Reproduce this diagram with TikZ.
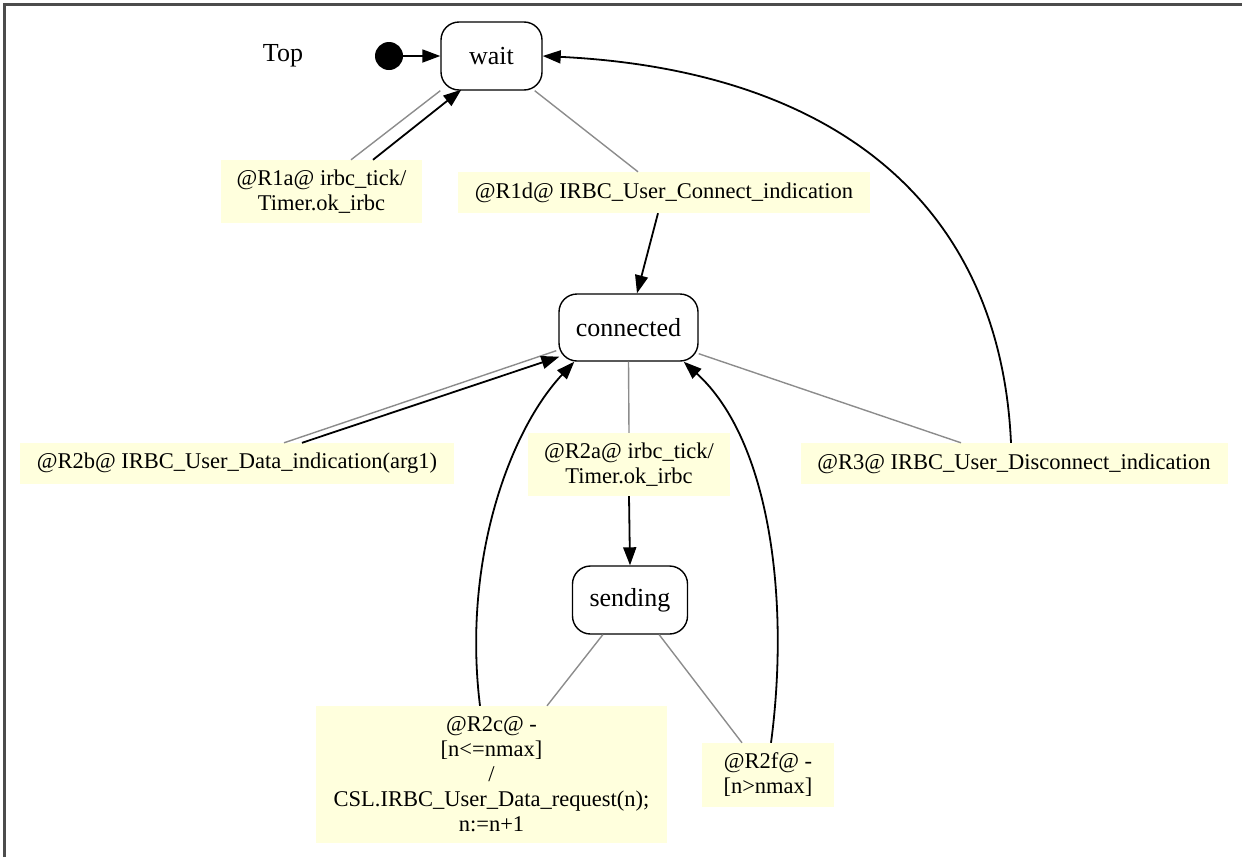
\documentclass[tikz,border=0pt]{standalone}
\usepackage{fontspec}
\setmainfont{Liberation Serif}
\usetikzlibrary{arrows.meta}
\definecolor{lblbg}{HTML}{FFFFDD}
\definecolor{edgegray}{HTML}{8C8C8C}
\tikzset{
  statebox/.style={draw=black, line width=1.4pt, rounded corners=18pt, fill=white, inner sep=0pt,
    font=\fontsize{26}{29}\selectfont},
  lbl/.style={fill=lblbg, inner sep=0pt, align=center, font=\fontsize{22.5}{25}\selectfont},
  glink/.style={draw=edgegray, line width=1.4pt},
  blink/.style={draw=black, line width=1.8pt, -{Triangle[length=18pt,width=13pt]}},
}
\begin{document}
\begin{tikzpicture}[x=1pt,y=-1pt]
\useasboundingbox (0,0) rectangle (1242,857);
\draw[line width=3pt, black!70] (4.5,857) -- (4.5,4.5) -- (1242,4.5);

% states
\node[statebox, minimum width=101pt, minimum height=68pt] (wait) at (491.5,56) {wait};
\node[statebox, minimum width=139pt, minimum height=67pt] (connected) at (628.5,327.5) {connected};
\node[statebox, minimum width=115pt, minimum height=68pt] (sending) at (630,600) {sending};
\node[font=\fontsize{26}{29}\selectfont] (top) at (283,56) {Top};
\node[circle, fill=black, minimum size=28pt, inner sep=0pt] (init) at (389,56) {};

% labels
\node[lbl, minimum width=201pt, minimum height=63pt] (R1a) at (321.5,191.5) {@R1a@ irbc\_tick/\\Timer.ok\_irbc};
\node[lbl, minimum width=412pt, minimum height=41pt] (R1d) at (664,192.5) {@R1d@ IRBC\_User\_Connect\_indication};
\node[lbl, minimum width=434pt, minimum height=41pt] (R2b) at (237,463.5) {@R2b@ IRBC\_User\_Data\_indication(arg1)};
\node[lbl, minimum width=202pt, minimum height=63pt] (R2a) at (629,464.5) {@R2a@ irbc\_tick/\\Timer.ok\_irbc};
\node[lbl, minimum width=427pt, minimum height=41pt] (R3) at (1014,463.5) {@R3@ IRBC\_User\_Disconnect\_indication};
\node[lbl, minimum width=351pt, minimum height=137pt] (R2c) at (491.5,774.5) {@R2c@ -\\{}[n<=nmax]\\/\\CSL.IRBC\_User\_Data\_request(n);\\n:=n+1};
\node[lbl, minimum width=132pt, minimum height=64pt] (R2f) at (768,775) {@R2f@ -\\{}[n>nmax]};

% initial
\draw[blink] (init) -- (wait.west);

% R1a
\draw[glink] (wait.south west) -- ([xshift=29.5pt]R1a.north);
\draw[blink] ([xshift=51.5pt]R1a.north) -- ([xshift=21pt,yshift=1pt]wait.south west);

% R1d
\draw[glink] ([xshift=-8pt]wait.south east) -- ([xshift=-26pt]R1d.north);
\draw[blink] ([xshift=-6pt]R1d.south) -- ([xshift=8.5pt]connected.north);

% R3
\draw[glink] ([yshift=8pt]connected.south east) -- ([xshift=-53pt]R3.north);
\draw[blink] ([xshift=-3pt]R3.north) .. controls (1000,200) and (830,70) .. (wait.east);

% R2b
\draw[glink] ([xshift=47pt]R2b.north) -- ([xshift=-2pt,yshift=11pt]connected.south west);
\draw[blink] ([xshift=65pt]R2b.north) -- ([xshift=1pt,yshift=5pt]connected.south west);

% R2a
\draw[glink] (connected.south) -- (R2a.north);
\draw[blink] (R2a.south) -- (sending.north);

% R2c
\draw[glink] ([xshift=31pt]sending.south west) -- ([xshift=55.5pt]R2c.north);
\draw[blink] ([xshift=-11.5pt]R2c.north) .. controls (462,560) and (510,430) .. ([xshift=16pt]connected.south west);

% R2f
\draw[glink] ([xshift=-29pt]sending.south east) -- ([xshift=-26pt]R2f.north);
\draw[blink] ([xshift=3pt]R2f.north) .. controls (790,600) and (770,440) .. ([xshift=-15pt]connected.south east);
\end{tikzpicture}
\end{document}
